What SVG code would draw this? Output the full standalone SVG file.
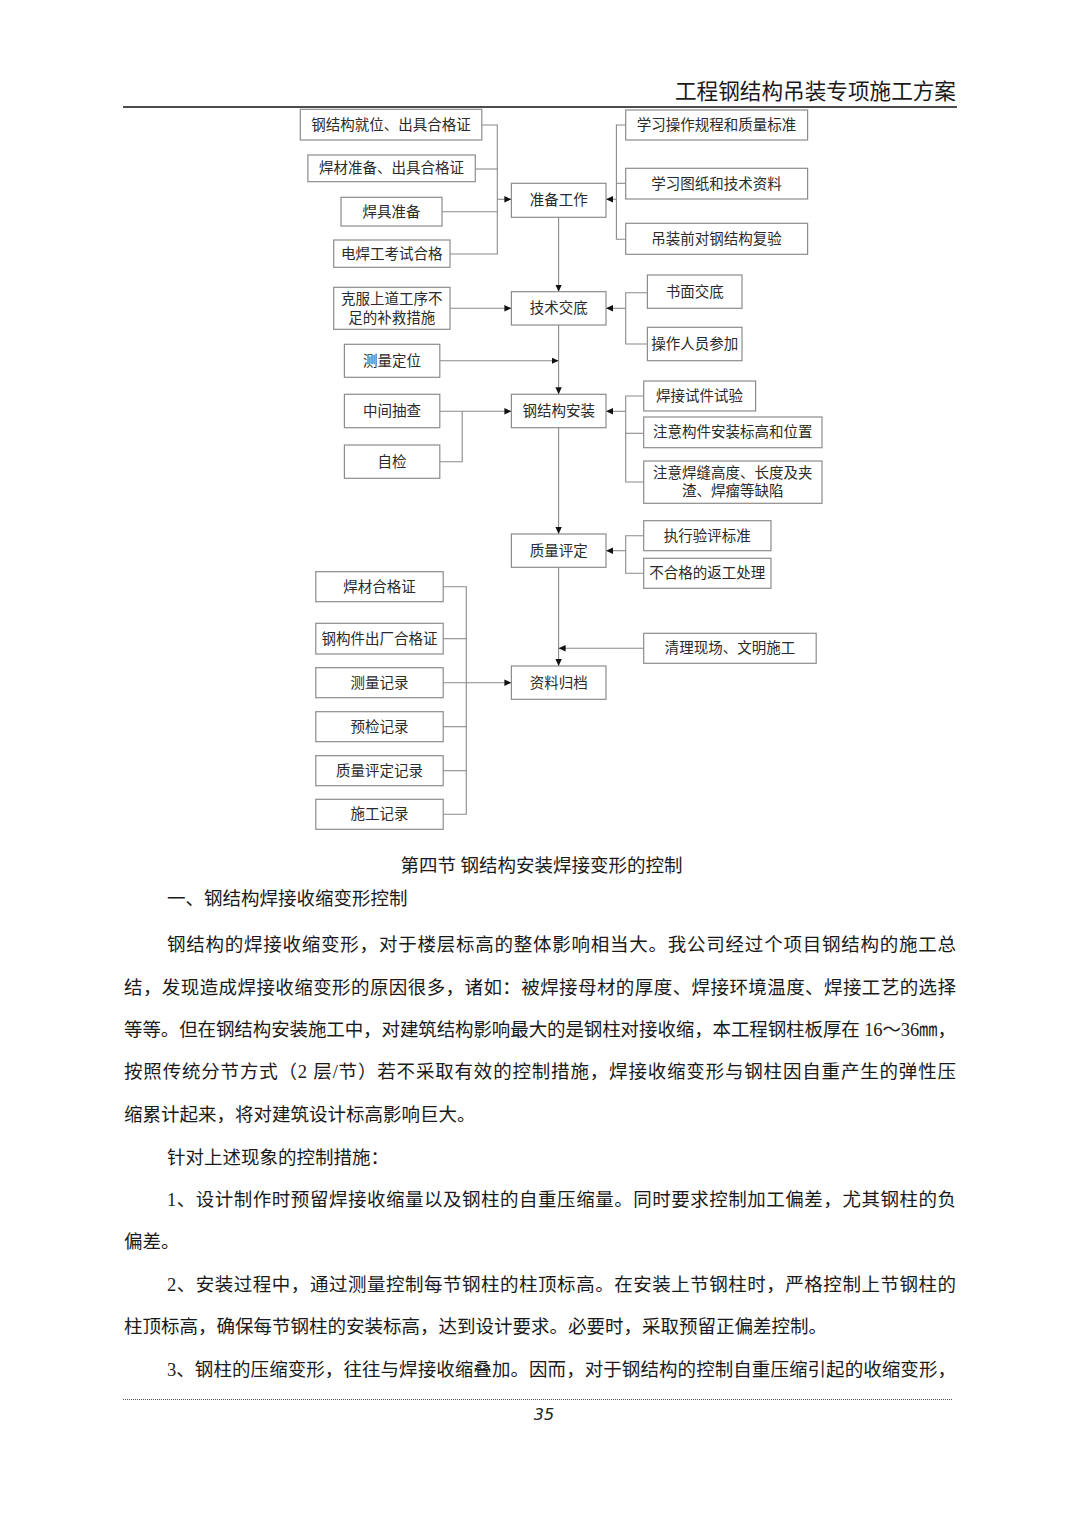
<svg xmlns="http://www.w3.org/2000/svg" width="1080" height="1527" viewBox="0 0 1080 1527">
<defs>
<marker id="arr" markerUnits="userSpaceOnUse" markerWidth="8" markerHeight="8" refX="7" refY="4" orient="auto">
<path d="M0,0.8 L7,4 L0,7.2 Z" fill="#111"/>
</marker>
<style>
.box{fill:#fff;stroke:#8c8c8c;stroke-width:1.2}
.bt{font-family:"Liberation Serif","Noto Sans CJK SC",serif;font-size:14.5px;fill:#2a2a2a;text-anchor:middle;dominant-baseline:central}
.ln{fill:none;stroke:#8a8a8a;stroke-width:1.1}
.body{font-family:"Liberation Serif","Noto Sans CJK SC",serif;font-size:18.5px;fill:#1a1a1a}
</style>
</defs>
<rect width="1080" height="1527" fill="#fff"/>

<!-- header -->
<text x="956" y="99" text-anchor="end" textLength="281" lengthAdjust="spacingAndGlyphs" style="font-family:'Liberation Serif','Noto Sans CJK SC',serif;font-size:22px;fill:#1a1a1a">工程钢结构吊装专项施工方案</text>
<line x1="123" y1="107" x2="957" y2="107" stroke="#111" stroke-width="1.6"/>

<!-- connectors -->
<g id="connectors">
<!-- center spine -->
<path class="ln" d="M558.6,217.3 V291.7" marker-end="url(#arr)"/>
<path class="ln" d="M558.6,325 V394.3" marker-end="url(#arr)"/>
<path class="ln" d="M558.6,427.7 V534" marker-end="url(#arr)"/>
<path class="ln" d="M558.6,567.3 V666" marker-end="url(#arr)"/>
<!-- left into 准备工作 -->
<path class="ln" d="M481.8,125 H497.3 V254 H450"/>
<path class="ln" d="M475.3,169 H497.3"/>
<path class="ln" d="M442,211.7 H497.3"/>
<path class="ln" d="M497.3,199.3 H511.4" marker-end="url(#arr)"/>
<!-- right into 准备工作 -->
<path class="ln" d="M625.7,125 H616.4 V239.3 H625.7"/>
<path class="ln" d="M616.4,183.3 H625.7"/>
<path class="ln" d="M616.4,199.3 H606" marker-end="url(#arr)"/>
<!-- 技术交底 -->
<path class="ln" d="M450,308.3 H511.4" marker-end="url(#arr)"/>
<path class="ln" d="M647.4,292.7 H625.7 V344 H647.4"/>
<path class="ln" d="M625.7,308.3 H606" marker-end="url(#arr)"/>
<!-- 测量定位 -->
<path class="ln" d="M439.8,360.7 H558.6" marker-end="url(#arr)"/>
<!-- 钢结构安装 -->
<path class="ln" d="M439.8,411.3 H511.4" marker-end="url(#arr)"/>
<path class="ln" d="M439.8,461.7 H462.2 V411.3"/>
<path class="ln" d="M643.7,396 H625.7 V482 H643.7"/>
<path class="ln" d="M625.7,433.3 H643.7"/>
<path class="ln" d="M625.7,411.3 H606" marker-end="url(#arr)"/>
<!-- 质量评定 -->
<path class="ln" d="M643.7,535.7 H625.7 V573.3 H643.7"/>
<path class="ln" d="M625.7,550.7 H606" marker-end="url(#arr)"/>
<!-- 清理现场 -->
<path class="ln" d="M643.7,648.3 H558.6" marker-end="url(#arr)"/>
<!-- 资料归档 -->
<path class="ln" d="M443.2,586.7 H466.3 V814.3 H443.2"/>
<path class="ln" d="M443.2,638.7 H466.3"/>
<path class="ln" d="M443.2,726.7 H466.3"/>
<path class="ln" d="M443.2,770.7 H466.3"/>
<path class="ln" d="M443.2,682.7 H511.4" marker-end="url(#arr)"/>
</g>

<!-- nodes -->
<g id="n1"><rect class="box" x="300.3" y="109.3" width="181.5" height="30.7"/><text class="bt" x="391" y="124.7">钢结构就位、出具合格证</text></g>
<g id="n2"><rect class="box" x="307.9" y="155" width="167.4" height="26.7"/><text class="bt" x="391.6" y="168.4">焊材准备、出具合格证</text></g>
<g id="n3"><rect class="box" x="341" y="197.3" width="101" height="28.7"/><text class="bt" x="391.5" y="211.7">焊具准备</text></g>
<g id="n4"><rect class="box" x="333.7" y="240" width="116.3" height="27.3"/><text class="bt" x="391.8" y="253.7">电焊工考试合格</text></g>
<g id="n5"><rect class="box" x="511.4" y="183.3" width="94.6" height="34"/><text class="bt" x="558.7" y="200.3">准备工作</text></g>
<g id="n6"><rect class="box" x="625.7" y="110" width="181.9" height="30"/><text class="bt" x="716.6" y="125">学习操作规程和质量标准</text></g>
<g id="n7"><rect class="box" x="625.7" y="168.3" width="181.9" height="30.7"/><text class="bt" x="716.6" y="183.7">学习图纸和技术资料</text></g>
<g id="n8"><rect class="box" x="625.7" y="223.3" width="181.9" height="31"/><text class="bt" x="716.6" y="238.8">吊装前对钢结构复验</text></g>

<g id="n9"><rect class="box" x="333.7" y="287.3" width="116.3" height="42"/><text class="bt" x="391.8" y="299.3">克服上道工序不</text><text class="bt" x="391.8" y="317.7">足的补救措施</text></g>
<g id="n10"><rect class="box" x="511.4" y="291.7" width="94.6" height="33.3"/><text class="bt" x="558.7" y="308.3">技术交底</text></g>
<g id="n11"><rect class="box" x="647.4" y="275" width="94.6" height="33.3"/><text class="bt" x="694.7" y="291.7">书面交底</text></g>
<g id="n12"><rect class="box" x="647.4" y="327.3" width="94.6" height="33.4"/><text class="bt" x="694.7" y="344">操作人员参加</text></g>
<g id="n13"><rect class="box" x="344.4" y="344.3" width="95.4" height="33"/><text class="bt" x="392.1" y="360.8">测量定位</text></g>
<g id="n14"><rect class="box" x="344.4" y="394.3" width="95.4" height="33.4"/><text class="bt" x="392.1" y="411">中间抽查</text></g>
<g id="n15"><rect class="box" x="344.4" y="445" width="95.4" height="33.3"/><text class="bt" x="392.1" y="461.7">自检</text></g>
<g id="n16"><rect class="box" x="511.4" y="394.3" width="94.6" height="33.4"/><text class="bt" x="558.7" y="411">钢结构安装</text></g>
<g id="n17"><rect class="box" x="643.7" y="381" width="111.9" height="30"/><text class="bt" x="699.6" y="396">焊接试件试验</text></g>
<g id="n18"><rect class="box" x="643.7" y="417" width="178.3" height="30.7"/><text class="bt" x="732.8" y="432.4">注意构件安装标高和位置</text></g>
<g id="n19"><rect class="box" x="643.7" y="461" width="178.3" height="42.3"/><text class="bt" x="732.8" y="473.3">注意焊缝高度、长度及夹</text><text class="bt" x="732.8" y="490.7">渣、焊瘤等缺陷</text></g>

<g id="n20"><rect class="box" x="511.4" y="534" width="94.6" height="33.3"/><text class="bt" x="558.7" y="550.7">质量评定</text></g>
<g id="n21"><rect class="box" x="643.7" y="520.7" width="127.3" height="30"/><text class="bt" x="707.3" y="535.7">执行验评标准</text></g>
<g id="n22"><rect class="box" x="643.7" y="558.3" width="127.3" height="30"/><text class="bt" x="707.3" y="573.3">不合格的返工处理</text></g>
<g id="n23"><rect class="box" x="643.7" y="633.3" width="172.5" height="30"/><text class="bt" x="730" y="648.3">清理现场、文明施工</text></g>
<g id="n24"><rect class="box" x="511.4" y="666" width="94.6" height="33.3"/><text class="bt" x="558.7" y="682.7">资料归档</text></g>

<g id="n25"><rect class="box" x="315.8" y="571.7" width="127.4" height="30"/><text class="bt" x="379.5" y="586.7">焊材合格证</text></g>
<g id="n26"><rect class="box" x="315.8" y="623.3" width="127.4" height="30.7"/><text class="bt" x="379.5" y="638.7">钢构件出厂合格证</text></g>
<g id="n27"><rect class="box" x="315.8" y="667.7" width="127.4" height="30"/><text class="bt" x="379.5" y="682.7">测量记录</text></g>
<g id="n28"><rect class="box" x="315.8" y="711.7" width="127.4" height="30"/><text class="bt" x="379.5" y="726.7">预检记录</text></g>
<g id="n29"><rect class="box" x="315.8" y="755.7" width="127.4" height="30"/><text class="bt" x="379.5" y="770.7">质量评定记录</text></g>
<g id="n30"><rect class="box" x="315.8" y="799.3" width="127.4" height="30"/><text class="bt" x="379.5" y="814.3">施工记录</text></g>

<!-- body text -->
<g class="body">
<text x="541.5" y="872" text-anchor="middle">第四节 钢结构安装焊接变形的控制</text>
<text x="167" y="905">一、钢结构焊接收缩变形控制</text>
<text x="167" y="951" textLength="789" lengthAdjust="spacing">钢结构的焊接收缩变形，对于楼层标高的整体影响相当大。我公司经过个项目钢结构的施工总</text>
<text x="124" y="994" textLength="832" lengthAdjust="spacing">结，发现造成焊接收缩变形的原因很多，诸如：被焊接母材的厚度、焊接环境温度、焊接工艺的选择</text>
<text x="124" y="1036" textLength="832" lengthAdjust="spacing">等等。但在钢结构安装施工中，对建筑结构影响最大的是钢柱对接收缩，本工程钢柱板厚在 16～36㎜，</text>
<text x="124" y="1078" textLength="832" lengthAdjust="spacing">按照传统分节方式（2 层/节）若不采取有效的控制措施，焊接收缩变形与钢柱因自重产生的弹性压</text>
<text x="124" y="1121">缩累计起来，将对建筑设计标高影响巨大。</text>
<text x="167" y="1164">针对上述现象的控制措施：</text>
<text x="167" y="1206" textLength="789" lengthAdjust="spacing">1、设计制作时预留焊接收缩量以及钢柱的自重压缩量。同时要求控制加工偏差，尤其钢柱的负</text>
<text x="124" y="1248">偏差。</text>
<text x="167" y="1291" textLength="789" lengthAdjust="spacing">2、安装过程中，通过测量控制每节钢柱的柱顶标高。在安装上节钢柱时，严格控制上节钢柱的</text>
<text x="124" y="1333">柱顶标高，确保每节钢柱的安装标高，达到设计要求。必要时，采取预留正偏差控制。</text>
<text x="167" y="1376" textLength="789" lengthAdjust="spacing">3、钢柱的压缩变形，往往与焊接收缩叠加。因而，对于钢结构的控制自重压缩引起的收缩变形，</text>
</g>

<!-- footer -->
<line x1="123" y1="1399.5" x2="953" y2="1399.5" stroke="#555" stroke-width="1" stroke-dasharray="1 1"/>
<text x="544" y="1420" text-anchor="middle" style="font-family:'DejaVu Sans',sans-serif;font-style:italic;font-size:16px;fill:#222">35</text>
</svg>
